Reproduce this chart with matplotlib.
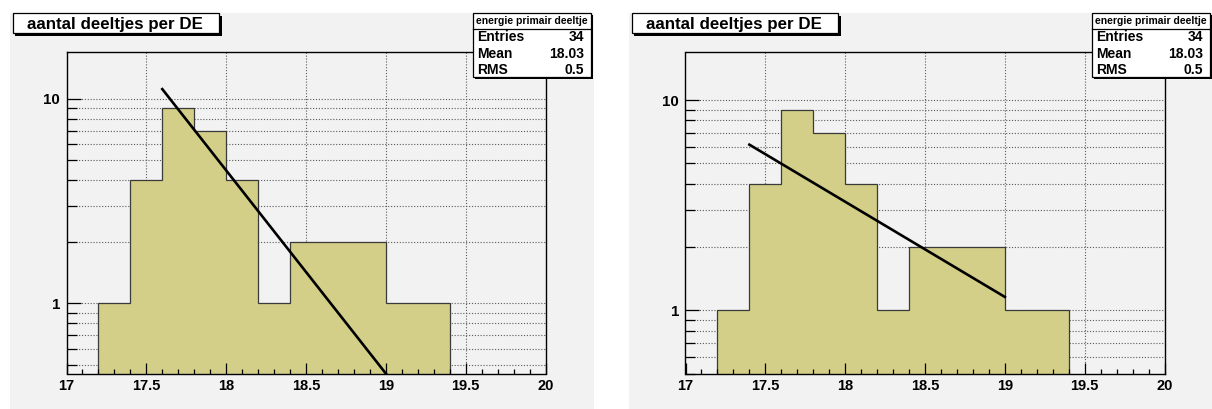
import numpy as np
import matplotlib
matplotlib.use("Agg")
import matplotlib.pyplot as plt
from matplotlib.patches import Rectangle
from matplotlib.transforms import Affine2D
from matplotlib.ticker import FixedLocator, NullFormatter, FuncFormatter, MultipleLocator

# ---- histogram data: primary particle energy (log10 E), 0.2 wide bins ----
bin_edges = np.round(np.arange(17.0, 20.0001, 0.2), 1)
counts = [0, 1, 4, 9, 7, 4, 1, 2, 2, 2, 1, 1, 0, 0, 0]

title_text = "aantal deeltjes per DE"
stats_title = "energie primair deeltje"
stats_labels = ["Entries", "Mean", "RMS"]
stats_values = ["34", "18.03", "0.5"]

# exponential fits  f(x) = exp(p0 + p1 * x)  for the two pads
fit_p0 = [42.663, 19.963]
fit_p1 = [-2.287, -1.043]
fit_range = [(17.6, 19.0), (17.4, 19.0)]
y_limits = [(0.454, 17.0), (0.5, 17.0)]
x_limits = (17.0, 20.0)
x_major = [17, 17.5, 18, 18.5, 19, 19.5, 20]
y_major = [1, 10]

W, H = 1212, 409
plt.rcParams["font.family"] = ["Liberation Sans", "DejaVu Sans"]
plt.rcParams["font.weight"] = "bold"

fig = plt.figure(figsize=(W / 100, H / 100), dpi=100)
fig.patch.set_facecolor("white")

# pixel coordinates, origin top-left
px = Affine2D().scale(1.0 / W, -1.0 / H).translate(0, 1) + fig.transFigure

PAD_BG = "#f2f2f2"
FILL = "#d4cf88"


def frac_rect(x0, y0, x1, y1):
    return [x0 / W, 1 - y1 / H, (x1 - x0) / W, (y1 - y0) / H]


def boxed(x0, y0, x1, y1, shadow=2.5):
    fig.add_artist(Rectangle((x0 + shadow, y0 + shadow), x1 - x0, y1 - y0,
                             transform=px, facecolor="black", edgecolor="none", zorder=10))
    fig.add_artist(Rectangle((x0, y0), x1 - x0, y1 - y0, transform=px,
                             facecolor="white", edgecolor="black", lw=0.9, zorder=11))


pad_x = [10, 629]
pad_w = [584, 583]

for i in range(2):
    ox = pad_x[i]
    # pad background
    fig.add_artist(Rectangle((ox, 13), pad_w[i], H - 13, transform=px,
                             facecolor=PAD_BG, edgecolor="none", zorder=-5))

    ax = fig.add_axes(frac_rect(ox + 56.5, 51.7, ox + 535.5, 373.5))
    ax.set_facecolor(PAD_BG)
    ax.set_yscale("log")
    ax.set_xlim(*x_limits)
    ax.set_ylim(*y_limits[i])

    # histogram (only the populated span; empty bins sit on the frame)
    c = np.asarray(counts, float)
    nz = np.nonzero(c)[0]
    lo, hi = nz[0], nz[-1] + 1
    ax.stairs(c[lo:hi], bin_edges[lo:hi + 1], baseline=1e-3, fill=True,
              facecolor=FILL, edgecolor="#3a3a3a", lw=0.9, zorder=2)

    # fit curve
    xs = np.linspace(fit_range[i][0], fit_range[i][1], 300)
    ax.plot(xs, np.exp(fit_p0[i] + fit_p1[i] * xs), color="black", lw=1.9, zorder=3)

    # ticks
    ax.xaxis.set_major_locator(FixedLocator(x_major))
    ax.xaxis.set_minor_locator(MultipleLocator(0.1))
    ax.xaxis.set_major_formatter(FuncFormatter(lambda v, p: f"{v:g}"))
    ax.yaxis.set_major_locator(FixedLocator(y_major))
    y_minor = [k * 10.0 ** e for e in (-1, 0, 1) for k in range(2, 10)]
    ax.yaxis.set_minor_locator(FixedLocator(y_minor))
    ax.yaxis.set_major_formatter(FuncFormatter(lambda v, p: f"{v:g}"))
    ax.yaxis.set_minor_formatter(NullFormatter())

    ax.tick_params(axis="x", which="major", direction="in", length=7.9, width=0.9,
                   top=False, labelsize=10.5, pad=4.0, colors="black")
    ax.tick_params(axis="x", which="minor", direction="in", length=3.6, width=0.9, top=False)
    ax.tick_params(axis="y", which="major", direction="in", length=10.2, width=0.9,
                   right=False, labelsize=10.8, pad=4.5)
    ax.tick_params(axis="y", which="minor", direction="in", length=7.0, width=0.9, right=False)
    ax.set_axisbelow(False)

    # dotted grid behind the histogram
    grid_kw = dict(color="#5a5a5a", lw=0.8, linestyle=(0, (1, 1.6)), zorder=0.8)
    for xv in x_major[1:-1]:
        ax.axvline(xv, **grid_kw)
    ylo, yhi = y_limits[i]
    for yv in sorted(y_major + y_minor):
        if ylo < yv < yhi:
            ax.axhline(yv, **grid_kw)

    for s in ax.spines.values():
        s.set_linewidth(1.0)
        s.set_color("black")
        s.set_zorder(4)

    # title box
    boxed(ox + 2.5, 13, ox + 209, 33)
    fig.text(ox + 105, 29.2, title_text, transform=px, ha="center", va="baseline",
             fontsize=12.2, fontweight="bold", zorder=12)

    # statistics box
    sx0, sx1 = ox + 463, ox + 581
    boxed(sx0, 13, sx1, 77, shadow=2.2)
    fig.add_artist(plt.Line2D([sx0, sx1], [29.3, 29.3], transform=px, color="black",
                              lw=0.9, zorder=12))
    fig.text((sx0 + sx1) / 2, 21, stats_title, transform=px, ha="center", va="center",
             fontsize=7.5, fontweight="bold", zorder=12)
    for k, (lab, val) in enumerate(zip(stats_labels, stats_values)):
        yy = 37 + k * 16.6
        fig.text(sx0 + 4, yy, lab, transform=px, ha="left", va="center",
                 fontsize=10, fontweight="bold", zorder=12)
        fig.text(sx1 - 7, yy, val, transform=px, ha="right", va="center",
                 fontsize=10, fontweight="bold", zorder=12)

fig.savefig("out.png", dpi=100, facecolor="white")
